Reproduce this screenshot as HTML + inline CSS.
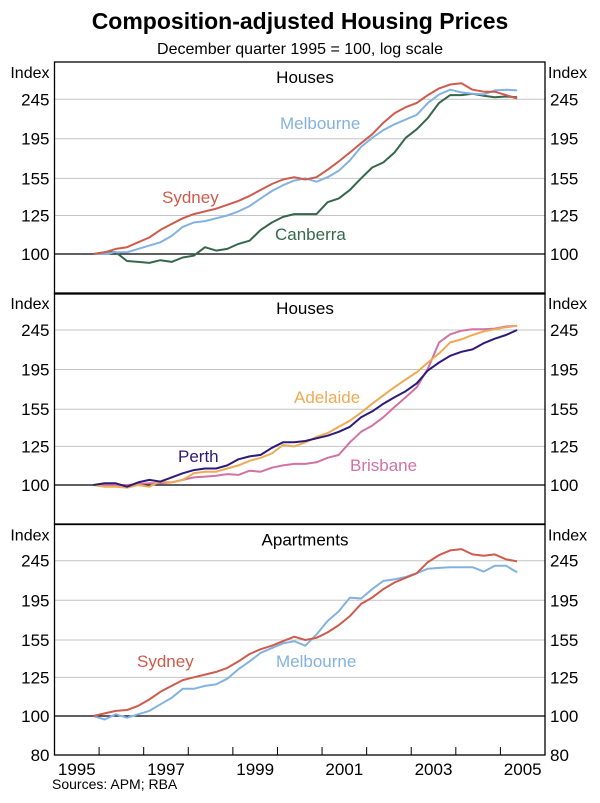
<!DOCTYPE html>
<html><head><meta charset="utf-8"><style>
html,body{margin:0;padding:0;background:#fff;}
svg{display:block;font-family:"Liberation Sans",Arial,sans-serif;}
</style></head><body>
<svg id="chart" width="600" height="803" viewBox="0 0 600 803" xmlns="http://www.w3.org/2000/svg">
<text x="300" y="29" text-anchor="middle" font-size="23" font-weight="bold">Composition-adjusted Housing Prices</text>
<text x="300" y="54" text-anchor="middle" font-size="16">December quarter 1995 = 100, log scale</text>
<text x="52" y="789" font-size="14">Sources: APM; RBA</text>
</svg>
<script>
const tickVals = [100,125,155,195,245];
const yearLabels = ["1995","1997","1999","2001","2003","2005"];
const startYear = 1995.875;
const sydneyHouses = [100,101,103,104,107,110,115,119,123,126,128,130,133,136,140,145,150,154,156,154,156,163,171,180,190,200,214,226,234,240,251,261,267,269,259,256,256,251,246];
const melbourneHouses = [100,100,101,101,103,105,107,111,117,120,121,123,125,128,132,138,144,149,153,155,152,156,162,172,186,196,205,212,218,224,240,252,259,255,253,252,258,259,258];
const canberraHouses = [100,101,101,96,95.5,95,96.5,95.5,98,99,104,102,103,106,108,115,120,124,126,126,126,135,138,145,155,165,170,180,196,206,220,240,251,251,253,250,248,249,248];
const adelaideHouses = [100,99,99,98.5,100,99,102,101.5,103,107,108,108,110,112,115,117,120,126,125,128,132,135,140,145,152,160,168,176,184,192,203,214,228,232,238,243,246,249,251];
const perthHouses = [100,101,101,99,101.5,103,102,104.5,107,109,110,110,112,116,118,119,124,128,128,129,131,133,136,140,148,153,160,166,172,180,194,203,211,216,219,227,233,238,245];
const brisbaneHouses = [100,100,100,100,100.5,101,101,101.5,103,104.5,105,105.5,106.5,106,108.6,108,110.5,112,113,113,114,117,119,128,136,141,148,157,166,176,196,228,239,244,246,246,247,250,251];
const sydneyApts = [100,101.5,103,103.5,106,110,115,119,123,125,127,129,132,137,143,147,150,154,158,155,157,162,169,178,191,198,208,216,222,228,243,253,260,262,254,252,254,247,244];
const melbourneApts = [100,98,101,99,101,103,107,111,117,117,119,120,124,131,137,144,148,152,154,150,160,173,183,198,197,208,218,220,223,228,234,235,236,236,236,230,238,238,229];

const NS="http://www.w3.org/2000/svg";
const svg=document.getElementById('chart');
const L=54.5,R=545;
function xs(t){return L+(t-1995)*(R-L)/11;}
function mk(tag,attrs,parent){const e=document.createElementNS(NS,tag);for(const k in attrs)e.setAttribute(k,attrs[k]);(parent||svg).appendChild(e);return e;}

const panels=[
 {name:'houses-sydney-melbourne-canberra',top:62,bot:294,y100:254,y245:99.3,title:'Houses',bottomTick:null,
  series:[{d:canberraHouses,c:'#35674a',n:'canberra-line'},{d:melbourneHouses,c:'#83b2e0',n:'melbourne-line'},{d:sydneyHouses,c:'#cf5b4d',n:'sydney-line'}],
  labels:[{t:'Melbourne',x:280,y:129,c:'#83b2e0',n:'melbourne-label'},{t:'Sydney',x:162,y:203,c:'#cf5b4d',n:'sydney-label'},{t:'Canberra',x:275,y:240,c:'#35674a',n:'canberra-label'}]},
 {name:'houses-adelaide-perth-brisbane',top:293,bot:524,y100:485,y245:330,title:'Houses',bottomTick:null,
  series:[{d:brisbaneHouses,c:'#d272a3',n:'brisbane-line'},{d:adelaideHouses,c:'#eeaa55',n:'adelaide-line'},{d:perthHouses,c:'#2e1a78',n:'perth-line'}],
  labels:[{t:'Adelaide',x:294,y:403,c:'#eeaa55',n:'adelaide-label'},{t:'Perth',x:178,y:462,c:'#2e1a78',n:'perth-label'},{t:'Brisbane',x:350,y:471,c:'#d272a3',n:'brisbane-label'}]},
 {name:'apartments-sydney-melbourne',top:524.5,bot:755,y100:716,y245:560.7,title:'Apartments',bottomTick:80,
  series:[{d:melbourneApts,c:'#83b2e0',n:'melbourne-apartments-line'},{d:sydneyApts,c:'#cf5b4d',n:'sydney-apartments-line'}],
  labels:[{t:'Sydney',x:137,y:667,c:'#cf5b4d',n:'sydney-apartments-label'},{t:'Melbourne',x:276,y:667,c:'#83b2e0',n:'melbourne-apartments-label'}]}
];

panels.forEach(p=>{
  const k=(p.y100-p.y245)/Math.log(2.45);
  const ys=v=>p.y100-k*Math.log(v/100);
  const g=mk('g',{});
  
  
  tickVals.forEach(v=>{
    const y=ys(v);
    const ln=mk('line',{x1:L,x2:R,y1:y,y2:y,stroke:v===100?'#000':'#c4c4c4','stroke-width':v===100?1.3:1},g);
    
    
    [[L-5,'end'],[R+5,'start']].forEach(([x,a])=>{
      const t=mk('text',{x:x,y:y+6,'text-anchor':a,'font-size':17},g);t.textContent=v;
      
      
    });
  });
  if(p.bottomTick){
    [[L-5,'end'],[R+5,'start']].forEach(([x,a])=>{
      const t=mk('text',{x:x,y:p.bot+6,'text-anchor':a,'font-size':17},g);t.textContent=p.bottomTick;
      
      
    });
  }
  [[L-5,'end'],[R+3,'start']].forEach(([x,a])=>{
    const t=mk('text',{x:x,y:p.top+16,'text-anchor':a,'font-size':16},g);t.textContent='Index';
    
    
  });
  const tt=mk('text',{x:305,y:p.top+21,'text-anchor':'middle','font-size':17},g);tt.textContent=p.title;
  
  
  p.series.forEach(s=>{
    const pts=s.d.map((v,i)=>xs(startYear+0.25*i).toFixed(1)+','+ys(v).toFixed(1)).join(' ');
    const pl=mk('polyline',{points:pts,fill:'none',stroke:s.c,'stroke-width':2,'stroke-linejoin':'round'},g);
    
    
  });
  p.labels.forEach(l=>{
    const t=mk('text',{x:l.x,y:l.y,fill:l.c,'font-size':17},g);t.textContent=l.t;
    
    
  });
  const fr=mk('rect',{x:L,y:p.top,width:R-L,height:p.bot-p.top,fill:'none',stroke:'#000','stroke-width':1.3},g);
  
  
});

for(let y=1995;y<=2006;y++){
  const x=xs(y);
  const tk=mk('line',{x1:x,x2:x,y1:755,y2:747,stroke:'#000','stroke-width':1});
  
  
}
yearLabels.forEach(lbl=>{
  const t=mk('text',{x:xs(+lbl+0.5),y:775,'text-anchor':'middle','font-size':17});t.textContent=lbl;
  
  
});
</script>
</body></html>
